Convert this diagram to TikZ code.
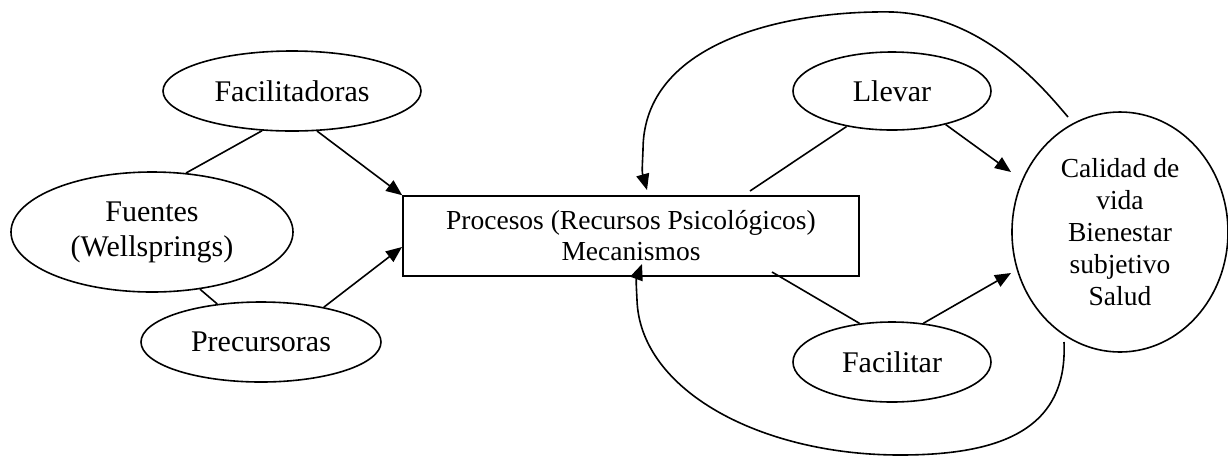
\documentclass[tikz,border=0pt]{standalone}
\usepackage{fontspec}
\setmainfont{Liberation Serif}
\usetikzlibrary{arrows.meta,shapes.geometric}
\begin{document}
\begin{tikzpicture}[x=0.5pt,y=-0.5pt,
  line width=0.8pt,
  ell/.style={draw,ellipse,inner sep=0pt,align=center,font=\fontsize{15}{17.5}\selectfont},
  boxed/.style={draw,rectangle,inner sep=0pt,align=center,font=\fontsize{13.75}{15.5}\selectfont},
  arr/.style={-{Triangle[length=8pt,width=6.5pt]}}
]
\useasboundingbox (0,0) rectangle (1228,457);

% nodes
\node[ell,minimum width=129pt,minimum height=40pt] (fac) at (292,91) {Facilitadoras};
\node[ell,minimum width=141pt,minimum height=60pt] (fue) at (152,232) {Fuentes\\(Wellsprings)};
\node[ell,minimum width=120pt,minimum height=40pt] (pre) at (261,342) {Precursoras};
\node[boxed,minimum width=228pt,minimum height=40pt] (box) at (631,236) {Procesos (Recursos Psicológicos)\\Mecanismos};
\node[ell,minimum width=99pt,minimum height=39pt] (lle) at (892,91) {Llevar};
\node[ell,minimum width=99pt,minimum height=40pt] (fcl) at (892,362) {Facilitar};
\node[ell,minimum width=108pt,minimum height=120pt,font=\fontsize{13.75}{15.9}\selectfont] (cal) at (1120,232) {Calidad de\\vida\\Bienestar\\subjetivo\\Salud};

% free ends
\coordinate (le) at (750,191);
\coordinate (bs) at (772,272);
\coordinate (t1) at (1011,172);
\coordinate (t2) at (1011,273);
\coordinate (pt) at (402,247);
\coordinate (ts) at (1068,117);
\coordinate (tt) at (647,190);
\coordinate (bst) at (1064,342);
\coordinate (bt) at (642,264);

% left side
\draw (fac.233) -- (fue.60);
\draw[arr] (fac.302) -- (box.north west);
\draw (fue.310) -- (pre.139);
\draw[arr] (pre.29) -- (pt);

% right side
\draw (lle.218) -- (le);
\draw[arr] (lle.328) -- (t1);
\draw (bs) -- (fcl.130);
\draw[arr] (fcl.51) -- (t2);

% feedback loops
\draw[arr] (ts) .. controls (1045,90) and (985,16) .. (893,12)
  .. controls (790,10) and (643,40) .. (643,150)
  .. controls (642,172) .. (tt);
\draw[arr] (bst) .. controls (1068,430) and (1000,455) .. (900,455)
  .. controls (760,455) and (640,390) .. (637,300)
  .. controls (636,280) .. (bt);
\end{tikzpicture}
\end{document}
